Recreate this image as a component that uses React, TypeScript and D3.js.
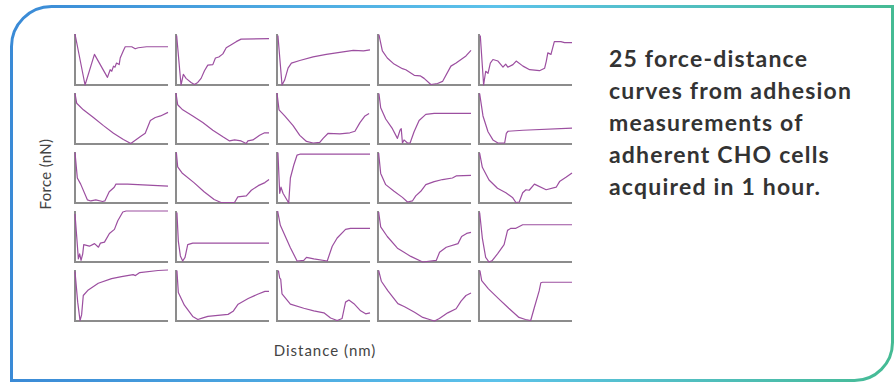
import { useEffect, useRef } from "react";
import * as d3 from "d3";

// each curve: [distance %, force %] points (0 = axis, 100 = panel top)
const row1: number[][][] = [
    [[0, 100], [10.8, 0], [20.9, 60], [34.9, 15], [37.8, 30], [39.5, 27], [41.4, 37], [43, 35], [44.6, 43], [47.5, 40], [48.6, 53], [52.2, 68], [54, 75], [61, 75], [64.7, 71], [68, 73], [77, 75], [100, 75]],
    [[0.7, 97], [5.4, 0], [7.9, 21], [10.8, 13], [16.2, 5], [19.8, 1], [23.4, 5], [27, 13], [30.6, 28], [34.2, 39], [39.6, 40], [42.4, 53], [46, 55], [50.4, 61], [54, 73], [59.4, 79], [64.7, 85], [70, 90], [100, 91]],
    [[1, 97], [5.4, 0], [8.3, 10], [11.9, 33], [15.5, 43], [24.5, 48], [38.8, 55], [53, 60], [71, 65], [82, 68], [93, 67], [100, 69]],
    [[1, 99], [4.7, 67], [10, 53], [17.3, 41], [26.3, 32], [29.9, 30], [39, 19], [45.3, 18], [49.6, 13], [56.8, 1], [64, 3], [69.4, 7], [78.4, 37], [84, 43], [94.6, 57], [100, 68]],
    [[1.4, 97], [5, 0], [7.2, 27], [9.7, 23], [12.2, 43], [15, 50], [20.4, 47], [25.8, 35], [28.7, 41], [31, 35], [36.5, 40], [40, 47], [47.3, 37], [54.5, 30], [65, 28], [70.6, 33], [72.4, 47], [74, 63], [77.4, 60], [81, 85], [88, 85], [92, 83], [100, 83]],
];
const row2: number[][][] = [
    [[0, 99], [1.8, 80], [9, 67], [19.8, 52], [30.6, 36], [41.4, 21], [52, 9], [60, 1], [63.7, 6], [70, 14], [75.5, 21], [81, 46], [86.3, 52], [92, 55], [100, 62]],
    [[0, 100], [1.8, 77], [7.2, 67], [18, 55], [28.8, 42], [39.6, 27], [50.4, 14], [57.6, 6], [63, 8], [70, 6], [75.5, 1], [77.3, 6], [82.7, 8], [89.9, 17], [95.3, 22], [100, 22]],
    [[0, 100], [2.2, 67], [8.3, 55], [17.3, 36], [24.5, 17], [31.7, 5], [38.8, 2], [46, 3], [49.6, 11], [55, 21], [67.6, 20], [78.4, 22], [83.8, 25], [89.2, 42], [94.6, 55], [99, 60]],
    [[1, 99], [2.9, 71], [8.3, 49], [15.5, 30], [20.9, 11], [23.7, 27], [25, 30], [26.3, 2], [28, 8], [31.7, 2], [34.5, 2], [38.8, 24], [44.2, 46], [51.4, 58], [60.4, 60], [100, 60]],
    [[0.7, 99], [4.3, 55], [9.7, 24], [15, 8], [20.4, 2], [27.6, 2], [29.4, 21], [31.2, 25], [47.3, 27], [100, 31]],
];
const row3: number[][][] = [
    [[0, 99], [2.5, 49], [6.1, 37], [13.4, 6], [17, 4], [22.4, 6], [29.6, 3], [32.1, 4], [36.8, 22], [42.2, 31], [44, 37], [56.7, 37], [100, 33]],
    [[0.4, 99], [1.8, 71], [6.5, 59], [19.3, 40], [30.2, 22], [41, 7], [48.4, 1], [62.9, 1], [66.5, 12], [75.6, 14], [81, 25], [88.4, 34], [95.6, 40], [100, 46]],
    [[1, 99], [2.9, 19], [4.3, 31], [6.5, 19], [12.6, 0], [14.4, 49], [18, 74], [21.6, 94], [25.2, 96], [100, 96]],
    [[0.7, 98], [2.9, 58], [8.3, 36], [17.3, 23], [26.3, 11], [31.7, 2], [37, 4], [40.6, 14], [46, 23], [51.4, 36], [60.4, 42], [69.4, 46], [80, 49], [84, 53], [100, 54]],
    [[0.7, 98], [3.6, 70], [10.8, 45], [19.9, 29], [28.9, 20], [36, 11], [39.7, 1], [43.3, 2], [47, 20], [50.5, 26], [54, 25], [59.6, 37], [72.2, 26], [83, 31], [86.6, 42], [93.9, 51], [100, 59]],
];
const row4: number[][][] = [
    [[0, 94], [2.2, 41], [3.6, 6], [5, 16], [6.5, 3], [8.3, 16], [9.4, 34], [15.5, 31], [21, 36], [25.2, 29], [27.3, 37], [31.7, 39], [37, 56], [42.4, 64], [46, 81], [51.4, 98], [55, 100], [100, 100]],
    [[1, 97], [2.5, 41], [4.7, 12], [7.2, 2], [9.7, 9], [12.6, 34], [18, 37], [37.9, 37], [74, 37], [100, 37]],
    [[0.7, 100], [3.6, 72], [14.4, 28], [21.6, 2], [28.8, 3], [31.7, 9], [39.6, 6], [54, 2], [59.4, 31], [64.7, 47], [73.7, 64], [79, 66], [100, 66]],
    [[0.7, 98], [2.9, 69], [10, 50], [20.9, 27], [24.5, 23], [35.3, 11], [48, 0], [62.6, 3], [66.2, 19], [73.4, 29], [86, 36], [89.9, 50], [95.3, 56], [100, 58]],
    [[0.7, 97], [3.6, 47], [7.2, 9], [10.8, 0], [14.4, 3], [19.9, 16], [27, 34], [30.7, 62], [34.3, 66], [39.7, 66], [47, 73], [100, 73]],
];
const row5: number[][][] = [
    [[0, 97], [2.9, 37], [5.4, 1], [7.1, 12], [8.9, 50], [14.3, 61], [25, 74], [39.3, 83], [50, 87], [62.5, 91], [65, 89], [69.6, 95], [89.3, 99], [100, 100]],
    [[1, 99], [2.5, 56], [9, 31], [18, 9], [23.5, 3], [28.9, 6], [34.3, 9], [45, 11], [56, 13], [61.4, 19], [66.8, 33], [77.6, 44], [88.4, 53], [95.6, 58], [100, 58]],
    [[1.5, 99], [2.9, 84], [4, 82], [5.4, 53], [14.4, 33], [28.8, 25], [39.6, 20], [50.4, 16], [57.6, 6], [64.7, 1], [70, 5], [73.7, 37], [77.3, 41], [82.7, 34], [89.9, 20], [95.3, 14], [100, 16]],
    [[0.7, 99], [3.6, 78], [10.7, 59], [21.4, 34], [28.6, 28], [39.3, 17], [48.2, 7], [55.4, 3], [60.7, 0], [66, 5], [75, 16], [84, 24], [89.3, 39], [94.6, 50], [100, 55]],
    [[1, 99], [2.9, 79], [10.2, 63], [21, 44], [32, 25], [43, 7], [50, 3], [55.6, 1], [59.3, 25], [64.7, 59], [66.5, 75], [68.4, 76], [100, 76]],
];
const curveRows = [row1, row2, row3, row4, row5];

const titleLines = [
    "25 force-distance",
    "curves from adhesion",
    "measurements of",
    "adherent CHO cells",
    "acquired in 1 hour.",
];
const xLabel = "Distance (nm)";
const yLabel = "Force (nN)";

export default function App() {
    const ref = useRef<SVGSVGElement>(null);

    useEffect(() => {
        const svg = d3.select(ref.current);
        svg.selectAll("*").remove();

        const defs = svg.append("defs");
        const grad = defs.append("linearGradient")
            .attr("id", "frame")
            .attr("gradientUnits", "userSpaceOnUse")
            .attr("x1", 11).attr("x2", 893)
            .attr("y1", 0).attr("y2", 0);
        grad.append("stop").attr("offset", "0%").attr("stop-color", "#3a8ad6");
        grad.append("stop").attr("offset", "55%").attr("stop-color", "#5cc2ea");
        grad.append("stop").attr("offset", "100%").attr("stop-color", "#45bb94");

        // frame: rounded top-left and bottom-right corners only
        const L = 11.5, T = 6.5, R = 892.5, B = 380.5, r1 = 40, r2 = 38;
        const p = d3.path();
        p.moveTo(L, B);
        p.lineTo(L, T + r1);
        p.arcTo(L, T, L + r1, T, r1);
        p.lineTo(R, T);
        p.lineTo(R, B - r2);
        p.arcTo(R, B, R - r2, B, r2);
        p.closePath();
        svg.append("path")
            .attr("d", p.toString())
            .attr("fill", "none")
            .attr("stroke", "url(#frame)")
            .attr("stroke-width", 3);

        const col = d3.scaleBand<number>()
            .domain(d3.range(5))
            .range([75, 572])
            .paddingInner(0.079);
        const row = d3.scaleBand<number>()
            .domain(d3.range(5))
            .range([34, 321])
            .paddingInner(0.1356);

        const x = d3.scaleLinear().domain([0, 100]).range([0, col.bandwidth()]);
        const y = d3.scaleLinear().domain([0, 100]).range([row.bandwidth(), 0]);
        const line = d3.line<number[]>()
            .x((d) => x(d[0]))
            .y((d) => y(d[1]));

        curveRows.forEach((curves, ri) => {
            curves.forEach((pts, ci) => {
                const g = svg.append("g")
                    .attr("transform", `translate(${col(ci)},${row(ri)})`);
                g.append("path")
                    .attr("d", `M0,0V${y(0)}H${x(100)}`)
                    .attr("fill", "none")
                    .attr("stroke", "#8c8c8c")
                    .attr("stroke-width", 2);
                g.append("path")
                    .datum(pts)
                    .attr("d", line)
                    .attr("fill", "none")
                    .attr("stroke", "#9c4fa0")
                    .attr("stroke-width", 1.2)
                    .attr("stroke-linejoin", "round");
            });
        });

        svg.append("text")
            .attr("x", 325).attr("y", 356)
            .attr("text-anchor", "middle")
            .attr("font-family", "Lato")
            .attr("font-size", 15)
            .attr("letter-spacing", 1)
            .attr("fill", "#444")
            .text(xLabel);
        svg.append("text")
            .attr("transform", "translate(51,174) rotate(-90)")
            .attr("text-anchor", "middle")
            .attr("font-family", "Lato")
            .attr("font-size", 15)
            .attr("letter-spacing", 0.3)
            .attr("fill", "#444")
            .text(yLabel);

        svg.append("g")
            .selectAll("text")
            .data(titleLines)
            .enter()
            .append("text")
                .attr("x", 609)
                .attr("y", (d, i) => 67 + i * 32)
                .attr("font-family", "Lato")
                .attr("font-weight", "bold")
                .attr("font-size", 23)
                .attr("letter-spacing", 1.2)
                .attr("fill", "#333")
                .text((d) => d);
    }, []);

    return (
        <svg ref={ref} width={896} height={383}
            style={{ position: "absolute", left: 0, top: 0, background: "white" }} />
    );
}
